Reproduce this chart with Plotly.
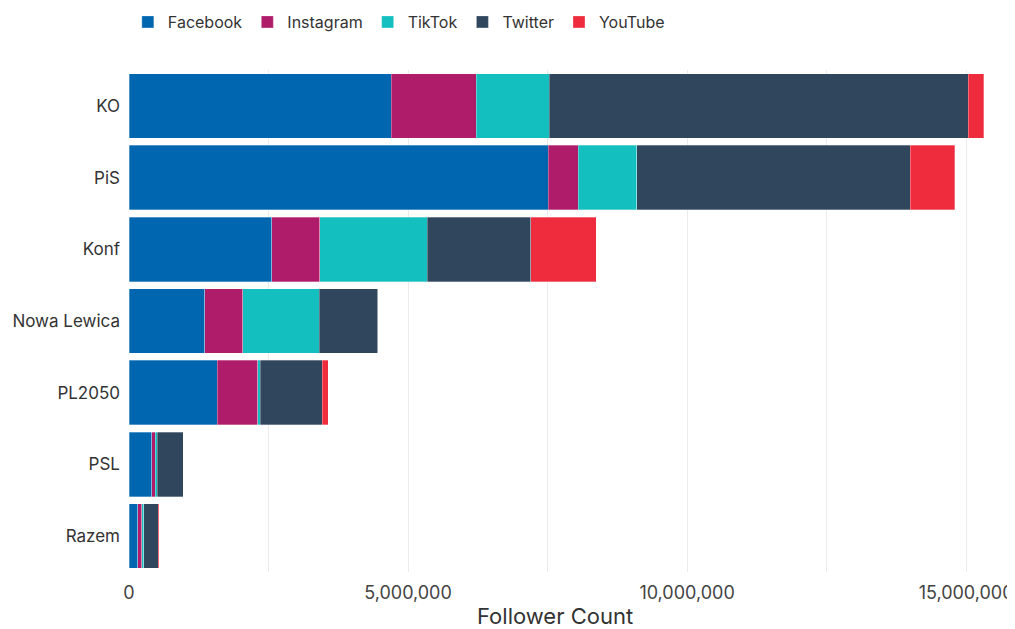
import plotly.graph_objects as go

parties = ["KO", "PiS", "Konf", "Nowa Lewica", "PL2050", "PSL", "Razem"]
platforms = ["Facebook", "Instagram", "TikTok", "Twitter", "YouTube"]
facebook = [4700000, 7510000, 2560000, 1360000, 1580000, 410000, 155000]
instagram = [1520000, 540000, 860000, 680000, 730000, 60000, 75000]
tiktok = [1310000, 1050000, 1920000, 1370000, 40000, 40000, 30000]
twitter = [7510000, 4900000, 1860000, 1050000, 1110000, 460000, 260000]
youtube = [280000, 800000, 1170000, 10000, 110000, 5000, 25000]
colors = ["#0066B0", "#AF1C6A", "#13BFBF", "#30465D", "#EE2C3E"]
x_title = "Follower Count"

series = [facebook, instagram, tiktok, twitter, youtube]

fig = go.Figure()
for name, vals, col in zip(platforms, series, colors):
    fig.add_trace(go.Bar(
        y=parties, x=vals, name=name, orientation="h",
        marker=dict(color=col, line=dict(color="rgba(255,255,255,0.6)", width=0.5)),
    ))

fig.update_layout(
    barmode="stack",
    bargap=0.1,
    width=1015, height=629,
    paper_bgcolor="white", plot_bgcolor="white",
    font=dict(family="Inter", size=16, color="#333333"),
    margin=dict(l=121, r=0, t=62, b=65, autoexpand=False),
    legend=dict(orientation="h", x=-0.0013, y=1.1295, xref="paper", yref="paper",
                xanchor="left", yanchor="top", font=dict(size=16, color="#333333"),
                traceorder="normal", itemwidth=30),
    xaxis=dict(
        automargin=False,
        range=[0, 16020000], tickformat=",d", dtick=5000000, tick0=0,
        showgrid=True, gridcolor="#EBEBEB", gridwidth=1,
        minor=dict(dtick=2500000, showgrid=True, gridcolor="#EBEBEB", gridwidth=1),
        zeroline=False, showline=False,
        tickfont=dict(size=18, color="#444444"), ticklabelstandoff=8,
    ),
    yaxis=dict(
        automargin=False,
        categoryorder="array", categoryarray=parties[::-1],
        showgrid=False, zeroline=False, showline=False,
        tickfont=dict(size=17, color="#333333"), ticklabelstandoff=8,
    ),
    annotations=[dict(
        text=x_title, xref="paper", yref="paper", x=0.477, y=-0.0876,
        xanchor="center", yanchor="middle", showarrow=False,
        font=dict(size=22, color="#333333"),
    )],
)

fig.write_html("out.html")
